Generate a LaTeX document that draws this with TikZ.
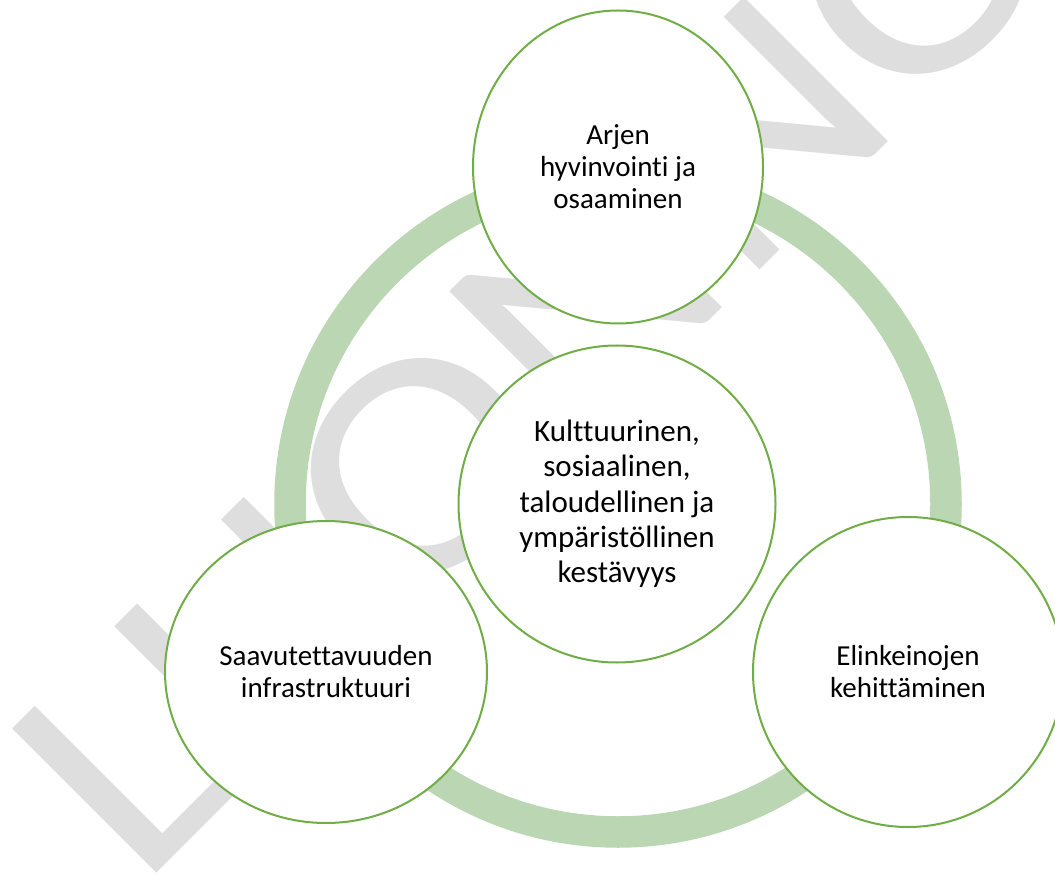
\documentclass[tikz,border=0pt]{standalone}
\usepackage{fontspec}
\setmainfont{Carlito}[Ligatures=NoCommon]
\usepackage{tikz}
\usetikzlibrary{shapes.geometric}

\definecolor{leafgreen}{HTML}{70AD47}
\definecolor{ringgreen}{RGB}{187,214,178}
\definecolor{draftgray}{RGB}{222,222,222}

\tikzset{goal/.style={ellipse, draw=leafgreen, line width=2pt, fill=white,
    inner sep=0pt, align=center, font=\fontsize{29}{32}\selectfont}}

\begin{document}
\begin{tikzpicture}[x=1pt,y=-1pt]
  \useasboundingbox (0,0) rectangle ( 1055,874 );

  \node[text=draftgray, rotate=45, xscale=1.14, anchor=base west, inner
  sep=0pt, font=\fontsize{318}{318}\selectfont] (draft) at ( 139,891 )
  {LUONNOS};

  \draw[ringgreen, line width=31.5pt] (618,504) circle( 328pt );

  \node[goal, minimum width=290pt, minimum height=313pt] (arki) at
  ( 618,167 ) {Arjen\\hyvinvointi ja\\osaaminen};
  \node[goal, minimum width=317pt, minimum height=317pt,
  font=\fontsize{31}{35.3}\selectfont] (kestavyys) at ( 617,504 )
  {Kulttuurinen,\\sosiaalinen,\\taloudellinen ja\\ympäristöllinen\\kestävyys};

  \node[goal, minimum width=322pt, minimum height=302pt] (saavutettavuus)
  at ( 326,672 ) {Saavutettavuuden\\infrastruktuuri};
  \node[goal, minimum width=310pt, minimum height=310pt] (elinkeinot) at
  ( 908,672 ) {Elinkeinojen\\kehittäminen};
\end{tikzpicture}
\end{document}
